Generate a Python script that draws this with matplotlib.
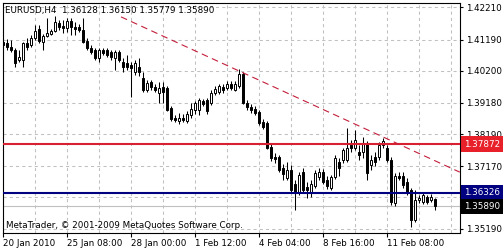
import matplotlib
matplotlib.use('Agg')
import matplotlib.pyplot as plt
from matplotlib.transforms import blended_transform_factory

# EURUSD H4 bars, 20 Jan 2010 16:00 onwards
symbol = 'EURUSD,H4'
opens = [1.4111, 1.4108, 1.4095, 1.4086, 1.4054, 1.4054, 1.4108, 1.4102, 1.4124, 1.4152,
         1.4111, 1.4130, 1.4137, 1.4146, 1.4171, 1.4162, 1.4156, 1.4178, 1.4159, 1.4159,
         1.4149, 1.4114, 1.4092, 1.4086, 1.4060, 1.4086, 1.4086, 1.4079, 1.4060, 1.4079,
         1.4048, 1.4045, 1.4038, 1.4016, 1.4032, 1.3997, 1.3959, 1.3984, 1.3968, 1.3949,
         1.3968, 1.3965, 1.3902, 1.3870, 1.3860, 1.3870, 1.3860, 1.3879, 1.3895, 1.3895,
         1.3924, 1.3927, 1.3918, 1.3949, 1.3952, 1.3968, 1.3965, 1.3978, 1.3959, 1.3971,
         1.4010, 1.3918, 1.3905, 1.3899, 1.3889, 1.3857, 1.3854, 1.3778, 1.3746, 1.3746,
         1.3711, 1.3679, 1.3705, 1.3660, 1.3635, 1.3698, 1.3651, 1.3635, 1.3654, 1.3683,
         1.3698, 1.3673, 1.3648, 1.3683, 1.3730, 1.3737, 1.3737, 1.3784, 1.3775, 1.3762,
         1.3762, 1.3791, 1.3721, 1.3746, 1.3746, 1.3784, 1.3775, 1.3737, 1.3600, 1.3686,
         1.3686, 1.3667, 1.3641, 1.3546, 1.3610, 1.3603, 1.3619, 1.3610, 1.36128]
highs = [1.4121, 1.4121, 1.4118, 1.4092, 1.4086, 1.4111, 1.4124, 1.4133, 1.4165, 1.4165,
         1.4137, 1.4187, 1.4152, 1.4194, 1.4181, 1.4181, 1.4187, 1.4187, 1.4175, 1.4168,
         1.4187, 1.4124, 1.4102, 1.4092, 1.4092, 1.4092, 1.4092, 1.4086, 1.4086, 1.4086,
         1.4060, 1.4070, 1.4048, 1.4054, 1.4060, 1.4016, 1.3991, 1.3991, 1.3978, 1.3984,
         1.3984, 1.3971, 1.3908, 1.3879, 1.3886, 1.3883, 1.3892, 1.3918, 1.3924, 1.3933,
         1.3930, 1.3933, 1.3959, 1.3971, 1.3978, 1.3978, 1.3987, 1.3987, 1.3987, 1.4026,
         1.4016, 1.3927, 1.3914, 1.3908, 1.3895, 1.3867, 1.3860, 1.3787, 1.3759, 1.3752,
         1.3724, 1.3730, 1.3721, 1.3673, 1.3698, 1.3711, 1.3667, 1.3673, 1.3705, 1.3711,
         1.3708, 1.3686, 1.3689, 1.3752, 1.3743, 1.3775, 1.3838, 1.3800, 1.3832, 1.3784,
         1.3810, 1.3797, 1.3752, 1.3762, 1.3794, 1.3806, 1.3784, 1.3746, 1.3695, 1.3698,
         1.3698, 1.3679, 1.3648, 1.3641, 1.3626, 1.3632, 1.3626, 1.3629, 1.36150]
lows = [1.4095, 1.4086, 1.4079, 1.4032, 1.4048, 1.4032, 1.4086, 1.4095, 1.4118, 1.4108,
        1.4086, 1.4127, 1.4133, 1.4143, 1.4149, 1.4140, 1.4143, 1.4133, 1.4133, 1.4143,
        1.4108, 1.4086, 1.4073, 1.4054, 1.4048, 1.4070, 1.4064, 1.4054, 1.4022, 1.4048,
        1.4016, 1.4022, 1.3937, 1.4006, 1.4003, 1.3952, 1.3952, 1.3959, 1.3952, 1.3918,
        1.3918, 1.3892, 1.3860, 1.3857, 1.3851, 1.3857, 1.3854, 1.3870, 1.3883, 1.3879,
        1.3908, 1.3883, 1.3911, 1.3943, 1.3946, 1.3949, 1.3959, 1.3959, 1.3956, 1.3965,
        1.3914, 1.3895, 1.3886, 1.3879, 1.3848, 1.3835, 1.3771, 1.3733, 1.3727, 1.3698,
        1.3673, 1.3673, 1.3632, 1.3578, 1.3626, 1.3635, 1.3616, 1.3619, 1.3648, 1.3673,
        1.3660, 1.3645, 1.3641, 1.3676, 1.3686, 1.3727, 1.3730, 1.3762, 1.3768, 1.3737,
        1.3743, 1.3673, 1.3705, 1.3717, 1.3737, 1.3775, 1.3730, 1.3594, 1.3590, 1.3673,
        1.3648, 1.3626, 1.3524, 1.3540, 1.3600, 1.3597, 1.3597, 1.3603, 1.35779]
closes = [1.4102, 1.4095, 1.4086, 1.4045, 1.4064, 1.4108, 1.4095, 1.4124, 1.4146, 1.4114,
          1.4130, 1.4140, 1.4146, 1.4175, 1.4159, 1.4156, 1.4178, 1.4159, 1.4152, 1.4149,
          1.4111, 1.4092, 1.4079, 1.4060, 1.4086, 1.4076, 1.4070, 1.4064, 1.4079, 1.4054,
          1.4032, 1.4032, 1.4029, 1.4045, 1.4016, 1.3959, 1.3981, 1.3968, 1.3959, 1.3965,
          1.3952, 1.3895, 1.3867, 1.3864, 1.3870, 1.3864, 1.3883, 1.3899, 1.3918, 1.3927,
          1.3914, 1.3892, 1.3949, 1.3962, 1.3971, 1.3959, 1.3978, 1.3965, 1.3978, 1.4010,
          1.3918, 1.3905, 1.3895, 1.3886, 1.3854, 1.3841, 1.3775, 1.3743, 1.3740, 1.3705,
          1.3692, 1.3705, 1.3641, 1.3635, 1.3689, 1.3641, 1.3641, 1.3660, 1.3695, 1.3698,
          1.3667, 1.3654, 1.3683, 1.3743, 1.3711, 1.3768, 1.3775, 1.3775, 1.3800, 1.3752,
          1.3791, 1.3695, 1.3737, 1.3730, 1.3784, 1.3797, 1.3737, 1.3603, 1.3686, 1.3679,
          1.3657, 1.3635, 1.3546, 1.3610, 1.3616, 1.3626, 1.3603, 1.3619, 1.35890]

time_ticks = [0, 16, 32, 48, 64, 80, 96]
time_labels = ['20 Jan 2010', '25 Jan 08:00', '28 Jan 00:00', '1 Feb 12:00',
               '4 Feb 04:00', '8 Feb 16:00', '11 Feb 08:00']
price_ticks = [1.42210, 1.41190, 1.40200, 1.39180, 1.38190, 1.37170, 1.36180, 1.35190]
price_labels = ['1.42210', '1.41190', '1.40200', '1.39180', '1.38190', '1.37170', '', '1.35190']

resistance = 1.37872
support = 1.36326
trend_bars = [29.5, 114.2]
trend_prices = [1.4191, 1.3698]

W, H = 503, 250
fs = 6.3
fig = plt.figure(figsize=(W / 100, H / 100), dpi=100)
fig.patch.set_facecolor('white')
ax = fig.add_axes([2.5 / W, (H - 233) / H, 457 / W, 230 / H])
ax.set_xlim(-0.125, 114.125)
ax.set_ylim(1.35048, 1.42350)

# dashed grid
for gx in range(0, 113, 8):
    ax.axvline(gx, color='#c0c0c0', lw=0.75, dashes=(3, 3), zorder=1)
for gy in price_ticks:
    ax.axhline(gy, color='#c0c0c0', lw=0.75, dashes=(3, 3), zorder=1)

# candles
xs = list(range(len(closes)))
ax.vlines(xs, lows, highs, color='black', lw=0.75, zorder=3)
bodies = [c - o for o, c in zip(opens, closes)]
fills = ['white' if c >= o else 'black' for o, c in zip(opens, closes)]
ax.bar(xs, bodies, bottom=opens, width=0.55, color=fills, edgecolor='black',
       linewidth=0.7, zorder=4)

# objects
bid = closes[-1]
ax.axhline(bid, color='#c0c0c0', lw=0.8, zorder=2)
ax.axhline(resistance, color='#d92030', lw=1.5, zorder=5)
ax.axhline(support, color='#000080', lw=1.5, zorder=5)
ax.plot(trend_bars, trend_prices, color='#c41e3a', lw=0.8, dashes=(6, 4), zorder=5)

# axes
ax.yaxis.tick_right()
ax.set_yticks(price_ticks, price_labels)
ax.set_xticks(time_ticks, time_labels, ha='left')
ax.tick_params(axis='y', length=2.5, width=0.8, pad=2.5, labelsize=fs)
ax.tick_params(axis='x', length=3, width=0.8, pad=1.5, labelsize=fs)
for s in ax.spines.values():
    s.set_linewidth(0.8)

trans = blended_transform_factory(ax.transAxes, ax.transData)
for price, face in [(resistance, '#e8202a'), (support, '#000080'), (bid, '#000000')]:
    ax.text(1.0 + 5 / 457, price, f'{price:.5f}', transform=trans, color='white',
            fontsize=fs, va='center', ha='left', clip_on=False, zorder=10,
            bbox=dict(boxstyle='square,pad=0.35', fc=face, ec='none'))

header = f'{symbol}  {opens[-1]:.5f} {highs[-1]:.5f} {lows[-1]:.5f} {closes[-1]:.5f}'
fig.text(5 / W, 1 - 11 / H, header, fontsize=fs, va='center', ha='left')
fig.text(6 / W, 1 - 225 / H, 'MetaTrader, © 2001-2009 MetaQuotes Software Corp.',
         fontsize=fs, va='center', ha='left')

fig.savefig('out.png', dpi=100, facecolor='white')
